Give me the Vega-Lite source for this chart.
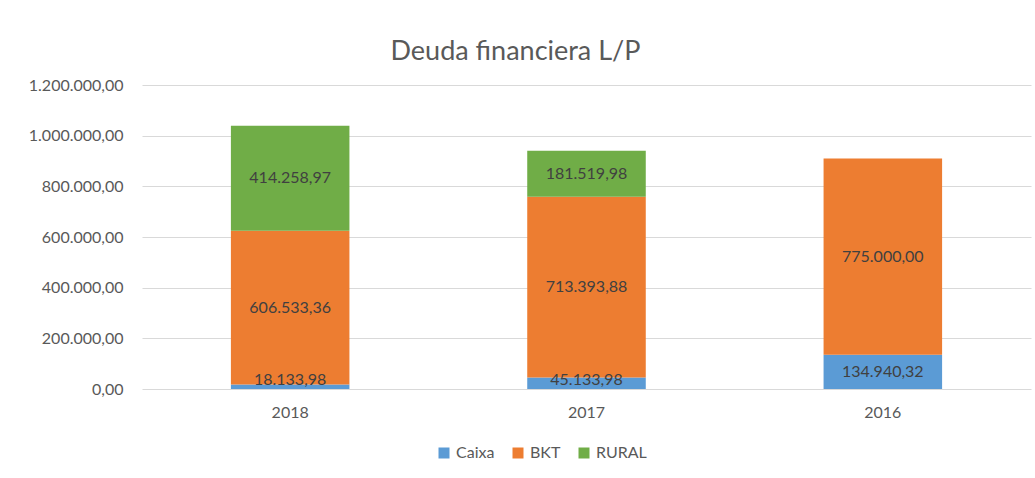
{
  "$schema": "https://vega.github.io/schema/vega-lite/v6.json",
  "width": 889,
  "height": 304,
  "autosize": {"type": "none"},
  "padding": {"left": 142, "top": 85, "right": 4, "bottom": 89},
  "background": "white",
  "config": {
    "locale": {"number": {"decimal": ",", "thousands": ".", "grouping": [3], "currency": ["", " €"]}},
    "font": "Lato",
    "view": {"stroke": null}
  },
  "title": {
    "text": "Deuda financiera L/P",
    "fontSize": 27,
    "fontWeight": "normal",
    "color": "#595959",
    "font": "Lato",
    "anchor": "middle",
    "frame": "group",
    "baseline": "alphabetic",
    "dx": -71,
    "offset": -10
  },
  "data": {
    "values": [
      {"anio": "2018", "serie": "Caixa", "valor": 18133.98},
      {"anio": "2018", "serie": "BKT", "valor": 606533.36},
      {"anio": "2018", "serie": "RURAL", "valor": 414258.97},
      {"anio": "2017", "serie": "Caixa", "valor": 45133.98},
      {"anio": "2017", "serie": "BKT", "valor": 713393.88},
      {"anio": "2017", "serie": "RURAL", "valor": 181519.98},
      {"anio": "2016", "serie": "Caixa", "valor": 134940.32},
      {"anio": "2016", "serie": "BKT", "valor": 775000.0}
    ]
  },
  "transform": [
    {"calculate": "indexof(['Caixa','BKT','RURAL'], datum.serie)", "as": "orden"},
    {"stack": "valor", "groupby": ["anio"], "sort": [{"field": "orden", "order": "ascending"}], "as": ["v0", "v1"]},
    {"calculate": "max((datum.v0 + datum.v1) / 2, 35000)", "as": "vmid"}
  ],
  "encoding": {
    "x": {
      "field": "anio",
      "type": "nominal",
      "sort": ["2018", "2017", "2016"],
      "scale": {"paddingInner": 0.6, "paddingOuter": 0.3},
      "axis": {
        "title": null,
        "labelAngle": 0,
        "labelFontSize": 16,
        "labelColor": "#595959",
        "labelPadding": 15,
        "ticks": false,
        "domain": false
      }
    }
  },
  "layer": [
    {
      "mark": {"type": "bar"},
      "encoding": {
        "y": {
          "field": "v0",
          "type": "quantitative",
          "scale": {"domain": [0, 1200000], "nice": false},
          "axis": {
            "title": null,
            "values": [0, 200000, 400000, 600000, 800000, 1000000, 1200000],
            "format": ",.2f",
            "labelFontSize": 16,
            "labelColor": "#595959",
            "labelPadding": 19,
            "ticks": false,
            "domain": false,
            "gridColor": "#d9d9d9",
            "gridWidth": 1
          }
        },
        "y2": {"field": "v1"},
        "color": {
          "field": "serie",
          "type": "nominal",
          "scale": {"domain": ["Caixa", "BKT", "RURAL"], "range": ["#5B9BD5", "#ED7D31", "#70AD47"]},
          "legend": {
            "title": null,
            "orient": "none",
            "direction": "horizontal",
            "gridAlign": "none",
            "legendX": 294,
            "legendY": 360,
            "symbolType": "square",
            "symbolSize": 121,
            "symbolStrokeWidth": 0,
            "labelFontSize": 16,
            "labelColor": "#595959",
            "labelOffset": 4,
            "columnPadding": 15
          }
        }
      }
    },
    {
      "mark": {"type": "text", "fontSize": 16, "color": "#404040", "baseline": "middle"},
      "encoding": {
        "y": {"field": "vmid", "type": "quantitative"},
        "text": {"field": "valor", "type": "quantitative", "format": ",.2f"}
      }
    }
  ]
}
